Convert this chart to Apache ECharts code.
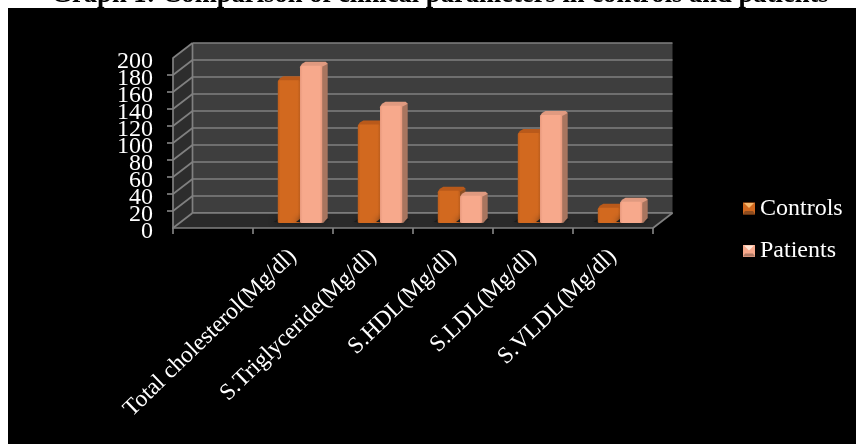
<!DOCTYPE html>
<html>
<head>
<meta charset="utf-8">
<style>html,body{margin:0;padding:0;background:#fff}#chart{width:856px;height:444px}</style>
<script src="https://cdn.jsdelivr.net/npm/echarts@6/dist/echarts.min.js"></script>
</head>
<body>
<div id="chart"></div>
<script>
// Clinical parameters, one empty leading slot on the category axis
const categories = ['', 'Total cholesterol(Mg/dl)', 'S.Triglyceride(Mg/dl)', 'S.HDL(Mg/dl)', 'S.LDL(Mg/dl)', 'S.VLDL(Mg/dl)'];
const controls = [null, 168, 116, 38, 106, 18];
const patients = [null, 185, 138, 32, 127, 25];
const yTicks = [0, 20, 40, 60, 80, 100, 120, 140, 160, 180, 200];
const titleText = 'Graph 1: Comparison of clinical parameters in controls and patients';

const SERIF = '"Liberation Serif", "Times New Roman", serif';
const GRID_LINE = '#808080';
const LINE_W = 1.7;
const DEPTH_X = 19.5, DEPTH_Y = 15;   // offset of the back wall from the front plane
const BAR_DX = 5.5, BAR_DY = 4;       // extruded depth of a bar

const palette = {
  Controls: { front: '#d2691f', edge: '#bd5e1c', top: '#b9591a', side: '#8f4f24', shade: '#f6b76c', dark: '#8e4d20' },
  Patients: { front: '#f7a98c', edge: '#e8997d', top: '#e09a80', side: '#a8755f', shade: '#ffe6d6', dark: '#b07a66' }
};

// Left wall, floor and the receding grid lines of the 3D frame
function renderFrame(params, api) {
  const children = [];
  const lineStyle = { stroke: GRID_LINE, lineWidth: LINE_W, fill: null };
  const left = api.coord([0, 0])[0] - api.size([1, 0])[0] / 2;
  const right = left + api.size([1, 0])[0] * categories.length;
  const low = api.coord([0, 0])[1];
  const high = api.coord([0, 200])[1];
  if (params.dataIndex === 0) {
    children.push({ type: 'polygon', shape: { points: [[left, low], [left + DEPTH_X, low - DEPTH_Y], [left + DEPTH_X, high - DEPTH_Y], [left, high]] }, style: { fill: '#2d2d2d' } });
    children.push({ type: 'polygon', shape: { points: [[left, low], [right, low], [right + DEPTH_X, low - DEPTH_Y], [left + DEPTH_X, low - DEPTH_Y]] }, style: { fill: '#2a2a2a' } });
    children.push({ type: 'line', shape: { x1: right, y1: low, x2: right + DEPTH_X, y2: low - DEPTH_Y }, style: lineStyle });
    children.push({ type: 'line', shape: { x1: left + DEPTH_X, y1: low - DEPTH_Y, x2: left + DEPTH_X, y2: high - DEPTH_Y }, style: lineStyle });
    children.push({ type: 'line', shape: { x1: left + DEPTH_X, y1: low - DEPTH_Y, x2: right + DEPTH_X, y2: low - DEPTH_Y }, style: lineStyle });
  }
  const y = api.coord([0, api.value(0)])[1];
  children.push({ type: 'line', shape: { x1: left, y1: y, x2: left + DEPTH_X, y2: y - DEPTH_Y }, style: lineStyle });
  return { type: 'group', children };
}

// One extruded bar: floor shadow, side face, top face, then the front face
function barRenderer(name, side) {
  const c = palette[name];
  return function (params, api) {
    const idx = api.value(0), val = api.value(1);
    const width = api.size([1, 0])[0] * 0.2775;
    const [cx, yTop] = api.coord([idx, val]);
    const yBase = api.coord([idx, 0])[1];
    const x0 = side < 0 ? cx - width : cx;
    const x1 = x0 + width;
    return {
      type: 'group',
      children: [
        { type: 'polygon', shape: { points: [[x0 - 4, yBase - 1], [x1 + 1, yBase - 1], [x1 + BAR_DX + 2, yBase - BAR_DY], [x0, yBase - BAR_DY]] }, style: { fill: '#1c1c1c', shadowBlur: 6, shadowColor: '#141414' } },
        { type: 'polygon', shape: { points: [[x1 - 1, yTop], [x1 + BAR_DX - 1, yTop - BAR_DY + 1], [x1 + BAR_DX, yTop - BAR_DY + 2], [x1 + BAR_DX, yBase - BAR_DY - 1], [x1 + 1, yBase], [x1 - 1, yBase]] }, style: { fill: c.side } },
        { type: 'polygon', shape: { points: [[x0, yTop + 1], [x0 + 2, yTop - BAR_DY + 2], [x0 + BAR_DX, yTop - BAR_DY], [x1 + BAR_DX - 2, yTop - BAR_DY], [x1 + BAR_DX, yTop - BAR_DY + 2], [x1, yTop + 1]] }, style: { fill: c.top } },
        { type: 'rect', shape: { x: x0, y: yTop, width: width, height: yBase - yTop, r: 1.5 }, style: {
          fill: { type: 'linear', x: 0, y: 0, x2: 1, y2: 0, colorStops: [
            { offset: 0, color: c.edge }, { offset: 0.12, color: c.front }, { offset: 0.88, color: c.front }, { offset: 1, color: c.edge }
          ] }
        } }
      ]
    };
  };
}

// Bevelled highlight laid over a legend swatch
function swatchBevel(x, y, c) {
  const s = 12;
  return [
    { type: 'polygon', z: 6, silent: true, shape: { points: [[x + 1, y + 1], [x + s - 1, y + 1], [x + s / 2, y + s / 2]] }, style: { fill: c.shade } },
    { type: 'polygon', z: 6, silent: true, shape: { points: [[x, y + s], [x + s, y + s], [x + s - 2, y + s - 3], [x + 2, y + s - 3]] }, style: { fill: c.dark } }
  ];
}

const hiddenX = i => ({ type: 'category', gridIndex: i, data: categories, show: false });
const hiddenY = (i, extra) => Object.assign({ type: 'value', gridIndex: i, min: 0, max: 200, interval: 20, axisLabel: { show: false }, axisTick: { show: false }, axisLine: { show: false }, splitLine: { show: false } }, extra);
const pairs = arr => arr.map((v, i) => [i, v]).filter(p => p[1] !== null);
const yLabelStyle = { margin: 20, verticalAlign: 'top', lineHeight: 7, hideOverlap: false, fontFamily: SERIF, fontSize: 24, color: '#fff' };

const chart = echarts.init(document.getElementById('chart'), null, { renderer: 'canvas' });
chart.setOption({
  animation: false,
  backgroundColor: '#ffffff',
  title: {
    text: titleText, left: 435, top: -23, textAlign: 'center', z: -2,
    textStyle: { fontFamily: SERIF, fontWeight: 'bold', fontSize: 26.6, color: '#000' }
  },
  graphic: { elements: [
    { type: 'rect', z: -1, silent: true, shape: { x: 8, y: 8, width: 848, height: 436 }, style: { fill: '#000' } },
    ...swatchBevel(743, 202, palette.Controls),
    ...swatchBevel(743, 244.5, palette.Patients)
  ] },
  legend: {
    orient: 'vertical', left: 743, top: 196.5, padding: 0, icon: 'rect', itemWidth: 12, itemHeight: 12, itemGap: 18.5, itemStyle: { borderWidth: 0 },
    data: ['Controls', 'Patients'],
    textStyle: { fontFamily: SERIF, fontSize: 24, color: '#fff', padding: [0, 0, 0, 0] }
  },
  grid: [
    { left: 173, top: 58, width: 480, height: 170 },
    { left: 192.5, top: 43, width: 480, height: 170, show: true, backgroundColor: '#3e3e3e', borderWidth: 0 },
    { left: 180, top: 53, width: 480, height: 170 }
  ],
  xAxis: [
    { type: 'category', gridIndex: 0, data: categories, z: 3,
      axisLine: { lineStyle: { color: GRID_LINE, width: LINE_W } },
      axisTick: { show: true, length: 6, lineStyle: { color: GRID_LINE, width: LINE_W } },
      axisLabel: { interval: 0, rotate: 44, margin: 25, fontFamily: SERIF, fontSize: 23.5, color: '#fff' } },
    hiddenX(1), hiddenX(2)
  ],
  yAxis: [
    // Inner tick labels; the crowded end labels come from the companion axis below
    { type: 'value', gridIndex: 0, min: 0, max: 200, interval: 20, z: 3,
      axisLine: { show: true, lineStyle: { color: GRID_LINE, width: LINE_W } },
      axisTick: { show: true, length: 6, lineStyle: { color: GRID_LINE, width: LINE_W } },
      axisLabel: Object.assign({ showMinLabel: false, showMaxLabel: false }, yLabelStyle),
      splitLine: { show: false } },
    hiddenY(1, { splitLine: { show: true, lineStyle: { color: GRID_LINE, width: LINE_W } } }),
    hiddenY(2),
    hiddenY(0, { position: 'left', z: 3, axisLabel: Object.assign({ show: true, customValues: [yTicks[0], yTicks[yTicks.length - 1]], showMinLabel: true, showMaxLabel: true }, yLabelStyle) })
  ],
  series: [
    { type: 'custom', name: 'frame', xAxisIndex: 0, yAxisIndex: 0, z: 1, silent: true, clip: false,
      data: yTicks.map(v => [v]), encode: { y: 0 }, renderItem: renderFrame },
    { type: 'custom', name: 'Controls', xAxisIndex: 2, yAxisIndex: 2, z: 2, clip: false, itemStyle: { color: palette.Controls.front },
      data: pairs(controls), encode: { x: 0, y: 1 }, renderItem: barRenderer('Controls', -1) },
    { type: 'custom', name: 'Patients', xAxisIndex: 2, yAxisIndex: 2, z: 2, clip: false, itemStyle: { color: palette.Patients.front },
      data: pairs(patients), encode: { x: 0, y: 1 }, renderItem: barRenderer('Patients', 1) }
  ]
});
</script>
</body>
</html>
